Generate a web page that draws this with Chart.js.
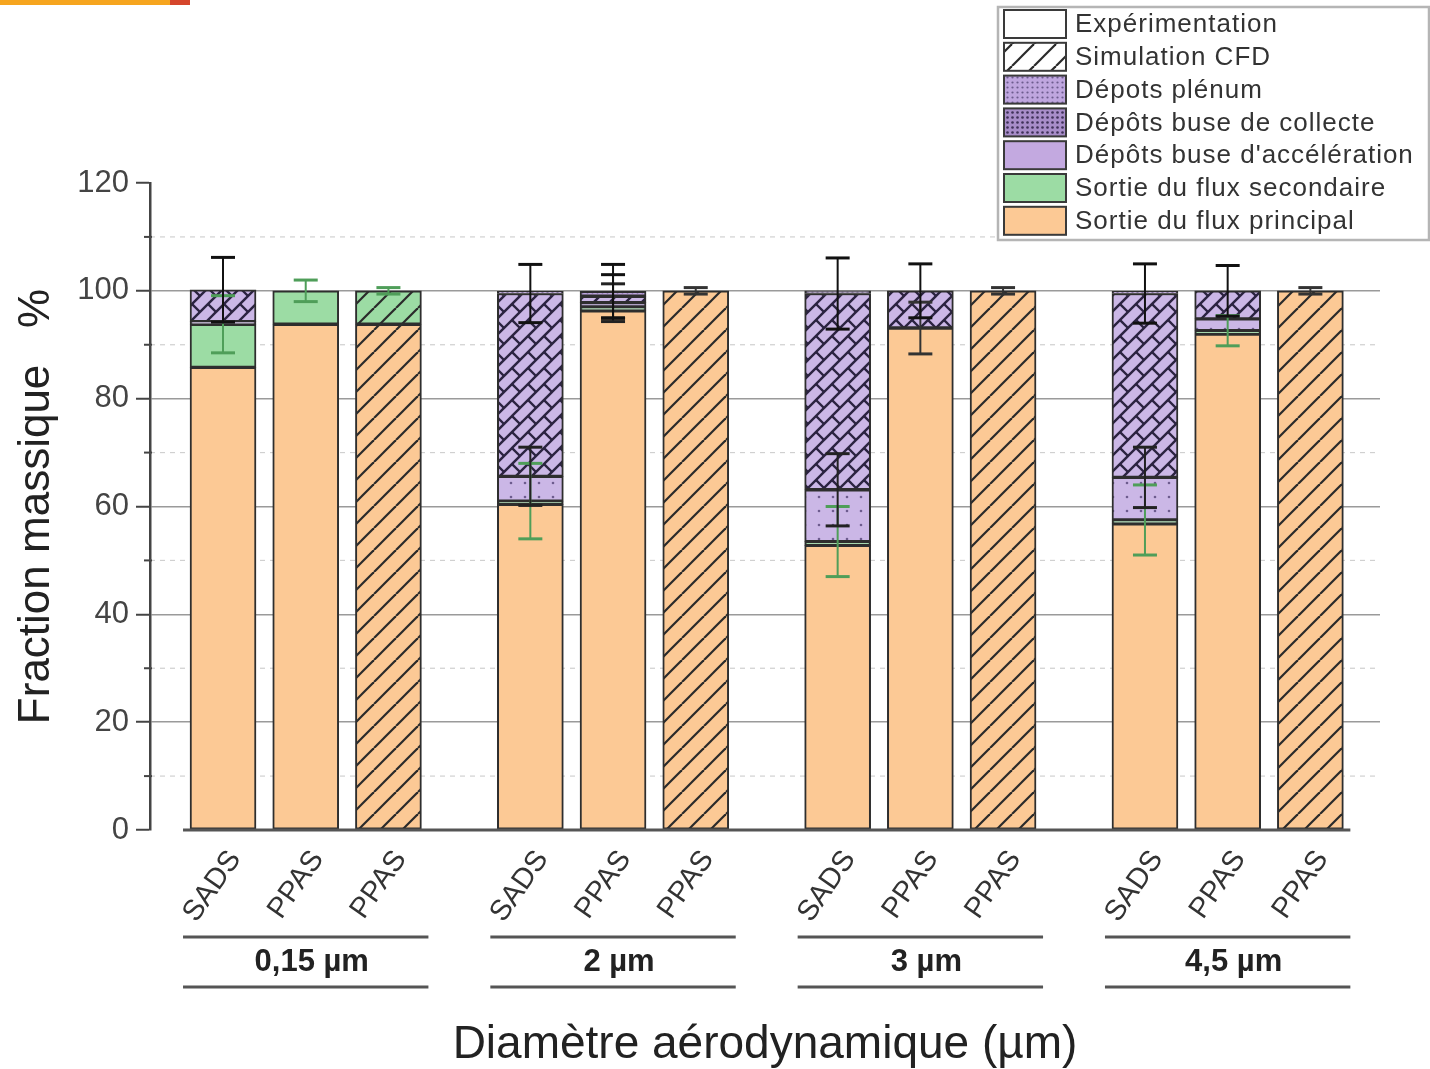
<!DOCTYPE html>
<html>
<head>
<meta charset="utf-8">
<script src="https://cdn.jsdelivr.net/npm/chart.js@4.4.0/dist/chart.umd.min.js"></script>
<style>
  html, body { margin: 0; padding: 0; background: #fff; }
  canvas { display: block; }
</style>
</head>
<body>
<canvas id="massChart" width="1430" height="1069"></canvas>
<script>
// categories
const groupLabels = ['0,15 µm', '2 µm', '3 µm', '4,5 µm'];
const barLabels = ['SADS', 'PPAS', 'PPAS'];
const barTypes = ['exp', 'exp', 'cfd'];

// series values (%), one value per bar, groups in order
const principal    = [85.8, 93.8, 93.8, 60.4, 96.3, 100, 52.8, 93.1, 100, 56.8, 92.0, 100];
const secondaire   = [8.0, 6.2, 6.2, 0.6, 0.7, 0, 0.7, 0, 0, 0.7, 0.6, 0];
const acceleration = [0.5, 0, 0, 4.6, 0.8, 0, 9.6, 0, 0, 7.9, 2.2, 0];
const collecte     = [5.9, 0, 0, 33.9, 1.2, 0, 36.4, 6.9, 0, 34.1, 5.2, 0];
const plenum       = [0, 0, 0, 0.4, 0.9, 0, 0.5, 0, 0, 0.4, 0, 0];

// error bars (±%)
const principalErr    = [0, 0, 0, 0, 0, 0.6, 0, 4.8, 0.6, 0, 0, 0.6];
const secondaireErr   = [5.3, 2, 0.6, 7, 0, 0, 6.5, 0, 0, 6.5, 2.8, 0];
const accelerationErr = [0, 0, 0, 5.4, 3.5, 0, 6.7, 0, 0, 5.6, 0, 0];
const collecteErr     = [6, 0, 0, 5.4, 4, 0, 6.6, 5, 0, 5.5, 4.7, 0];
const plenumErr       = [0, 0, 0, 0, 5, 0, 0, 0, 0, 0, 0, 0];

// tick labels
const yTicks = [0, 20, 40, 60, 80, 100, 120];
const yMinor = [10, 30, 50, 70, 90, 110];

const legendLabels = ['Expérimentation', 'Simulation CFD', 'Dépots plénum', 'Dépôts buse de collecte',
    "Dépôts buse d'accélération", 'Sortie du flux secondaire', 'Sortie du flux principal'];

// layout
const GROUP_STEP = 3.716;
const positions = [];
groupLabels.forEach((g, gi) => barLabels.forEach((b, bi) => positions.push(gi * GROUP_STEP + bi)));

const ORANGE = '#FCC995';
const GREEN = '#9CDCA4';
const PURPLE = '#CBB7E6';
const FONT = "'Liberation Sans', Arial, sans-serif";
Chart.defaults.font.family = FONT;

const canvas = document.getElementById('massChart');
const ctx = canvas.getContext('2d');

function makePattern(size, draw) {
    const c = document.createElement('canvas');
    c.width = size; c.height = size;
    const g = c.getContext('2d');
    draw(g, size);
    return ctx.createPattern(c, 'repeat');
}

function hatch(bg) {
    return makePattern(22, (g, s) => {
        g.fillStyle = bg; g.fillRect(0, 0, s, s);
        g.strokeStyle = '#2a2a2a'; g.lineWidth = 2.2;
        for (const o of [-s, 0, s]) {
            g.beginPath(); g.moveTo(o, s); g.lineTo(o + s, 0); g.stroke();
        }
    });
}

function dots(size, bg, dot, r) {
    return makePattern(size, (g, s) => {
        g.fillStyle = bg; g.fillRect(0, 0, s, s);
        g.fillStyle = dot;
        g.beginPath(); g.arc(s / 2, s / 2, r, 0, Math.PI * 2); g.fill();
    });
}

// diagonal brick pattern
const brick = makePattern(32, (g, T) => {
    g.fillStyle = PURPLE; g.fillRect(0, 0, T, T);
    const H = T / (2 * Math.SQRT2), L = T / Math.SQRT2;
    g.rotate(-Math.PI / 4);
    g.strokeStyle = '#2b2340'; g.lineWidth = 2.4;
    for (let k = -4; k < 10; k++) {
        g.beginPath(); g.moveTo(-3 * T, k * H); g.lineTo(3 * T, k * H); g.stroke();
        const off = (((k % 2) + 2) % 2) ? L / 2 : 0;
        for (let j = -5; j <= 5; j++) {
            g.beginPath(); g.moveTo(j * L + off, k * H); g.lineTo(j * L + off, (k + 1) * H); g.stroke();
        }
    }
});

const orangeHatch = hatch(ORANGE);
const greenHatch = hatch(GREEN);
const whiteHatch = hatch('#ffffff');
const sparseDots = dots(14, PURPLE, '#6d5c8e', 1.3);
const denseDots = dots(5, '#BFA6DF', '#6d5c8e', 1.1);
const denseDark = dots(5, '#A88DC9', '#3f3158', 1.3);

const series = [
    { label: 'Sortie du flux principal', values: principal, err: principalErr, fill: ORANGE, cfd: orangeHatch, errColor: '#333' },
    { label: 'Sortie du flux secondaire', values: secondaire, err: secondaireErr, fill: GREEN, cfd: greenHatch, errColor: '#4f9e59' },
    { label: "Dépôts buse d'accélération", values: acceleration, err: accelerationErr, fill: sparseDots, cfd: sparseDots, errColor: '#222' },
    { label: 'Dépôts buse de collecte', values: collecte, err: collecteErr, fill: brick, cfd: brick, errColor: '#111' },
    { label: 'Dépots plénum', values: plenum, err: plenumErr, fill: denseDots, cfd: denseDots, errColor: '#111' }
];

const legendFills = ['#ffffff', whiteHatch, denseDots, denseDark, '#C3A9E0', GREEN, ORANGE];

const datasets = series.map(s => ({
    label: s.label,
    data: positions.map((x, k) => ({ x: x, y: s.values[k] ? s.values[k] : null })),
    backgroundColor: c => barTypes[c.dataIndex % 3] === 'cfd' ? s.cfd : s.fill,
    borderColor: '#2e2e2e',
    borderWidth: 2,
    borderSkipped: false,
    barThickness: 66
}));

const extras = {
    id: 'extras',
    beforeDatasetsDraw(chart) {
        const { ctx: c, chartArea: a, scales: { y } } = chart;
        c.save();
        c.strokeStyle = '#d0d0d0'; c.lineWidth = 1.2; c.setLineDash([5, 5]);
        yMinor.forEach(v => {
            const py = y.getPixelForValue(v);
            c.beginPath(); c.moveTo(a.left, py); c.lineTo(a.right, py); c.stroke();
        });
        c.restore();
    },
    afterDatasetsDraw(chart) {
        const { ctx: c, chartArea: a, scales: { x, y } } = chart;
        c.save();
        // error bars, drawn at the top of each stacked segment
        series.forEach((s, si) => {
            const meta = chart.getDatasetMeta(si);
            s.err.forEach((e, k) => {
                if (!e || !s.values[k]) return;
                let top = 0;
                for (let i = 0; i <= si; i++) top += series[i].values[k];
                const px = meta.data[k].x;
                const y1 = y.getPixelForValue(top + e), y2 = y.getPixelForValue(top - e);
                c.strokeStyle = s.errColor;
                c.lineWidth = 2;
                c.beginPath(); c.moveTo(px, y1); c.lineTo(px, y2); c.stroke();
                c.lineWidth = 3;
                c.beginPath(); c.moveTo(px - 12, y1); c.lineTo(px + 12, y1); c.stroke();
                c.beginPath(); c.moveTo(px - 12, y2); c.lineTo(px + 12, y2); c.stroke();
            });
        });
        // baseline under the bars
        c.strokeStyle = '#555'; c.lineWidth = 3;
        c.beginPath();
        c.moveTo(x.getPixelForValue(positions[0]) - 40, a.bottom);
        c.lineTo(x.getPixelForValue(positions[positions.length - 1]) + 40, a.bottom);
        c.stroke();
        c.restore();
    },
    afterDraw(chart) {
        const { ctx: c, chartArea: a, scales: { x, y } } = chart;
        c.save();
        // minor ticks
        c.strokeStyle = '#444'; c.lineWidth = 2;
        yMinor.forEach(v => {
            const py = y.getPixelForValue(v);
            c.beginPath(); c.moveTo(a.left - 6, py); c.lineTo(a.left + 2, py); c.stroke();
        });
        // group labels with lines
        groupLabels.forEach((g, gi) => {
            const left = x.getPixelForValue(positions[gi * 3]) - 40;
            const right = x.getPixelForValue(positions[gi * 3 + 2]) + 40;
            c.strokeStyle = '#555'; c.lineWidth = 3;
            [a.bottom + 107, a.bottom + 157].forEach(py => {
                c.beginPath(); c.moveTo(left, py); c.lineTo(right, py); c.stroke();
            });
            c.fillStyle = '#222';
            c.font = 'bold 31px ' + FONT;
            c.textAlign = 'center'; c.textBaseline = 'middle';
            c.fillText(g, (left + right) / 2 + 6, a.bottom + 132);
        });
        // legend
        const lx = 998, ly = 7, lw = 431, lh = 233;
        c.fillStyle = '#fff'; c.fillRect(lx, ly, lw, lh);
        c.strokeStyle = '#b5b5b5'; c.lineWidth = 2.5;
        c.strokeRect(lx, ly, lw, lh);
        c.font = '26px ' + FONT;
        c.letterSpacing = '1px';
        c.textAlign = 'left'; c.textBaseline = 'middle';
        legendLabels.forEach((t, i) => {
            const cy = 24 + i * 32.8;
            c.fillStyle = legendFills[i];
            c.fillRect(1004, cy - 14, 62, 28);
            c.strokeStyle = '#3a3a3a'; c.lineWidth = 2;
            c.strokeRect(1004, cy - 14, 62, 28);
            c.fillStyle = '#333';
            c.fillText(t, 1075, cy + 1);
        });
        c.letterSpacing = '0px';
        // top-left band
        c.fillStyle = '#F6A51F'; c.fillRect(0, 0, 170, 5);
        c.fillStyle = '#D5462C'; c.fillRect(170, 0, 20, 5);
        c.restore();
    }
};

new Chart(ctx, {
    type: 'bar',
    data: { datasets: datasets },
    options: {
        responsive: false,
        animation: false,
        layout: { padding: { top: 183, right: 50, left: 0, bottom: 0 } },
        plugins: { legend: { display: false }, tooltip: { enabled: false } },
        scales: {
            x: {
                type: 'linear',
                stacked: true,
                offset: false,
                min: -0.883,
                max: 13.99,
                afterBuildTicks: ax => { ax.ticks = positions.map(v => ({ value: v })); },
                afterFit: ax => { ax.height = 239; },
                grid: { display: false, offset: false },
                border: { display: false },
                ticks: {
                    autoSkip: false,
                    minRotation: 55,
                    maxRotation: 55,
                    padding: 6,
                    labelOffset: 12,
                    color: '#333',
                    font: { size: 29 },
                    callback: (v, i) => barLabels[i % 3]
                },
                title: {
                    display: true,
                    text: 'Diamètre aérodynamique (µm)',
                    color: '#222',
                    font: { size: 46 },
                    padding: { top: 0, bottom: -4 }
                }
            },
            y: {
                stacked: true,
                min: 0,
                max: 120,
                afterBuildTicks: ax => { ax.ticks = yTicks.map(v => ({ value: v })); },
                afterFit: ax => { ax.width = 150; },
                ticks: { padding: 7, color: '#444', font: { size: 31 } },
                grid: {
                    color: c => (c.tick.value === 0 || c.tick.value === 120) ? 'rgba(0,0,0,0)' : '#9a9a9a',
                    lineWidth: 1.5,
                    tickColor: '#444',
                    tickLength: 14,
                    tickWidth: 2
                },
                border: { color: '#444', width: 2.5 },
                title: {
                    display: true,
                    text: 'Fraction massique   %',
                    color: '#222',
                    font: { size: 44 },
                    padding: { top: 10, bottom: 0 }
                }
            }
        }
    },
    plugins: [extras]
});
</script>
</body>
</html>
